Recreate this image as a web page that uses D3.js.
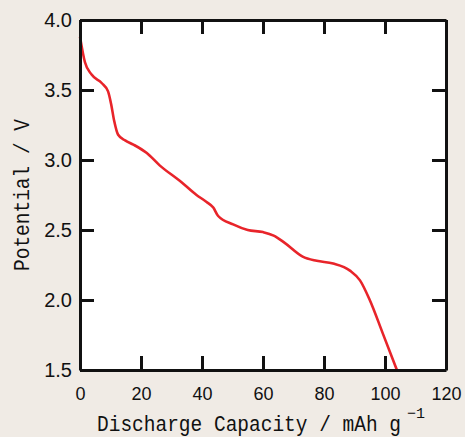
<!DOCTYPE html>
<html>
<head>
<meta charset="utf-8">
<script src="https://cdn.jsdelivr.net/npm/d3@7"></script>
<style>
    body { margin: 0; background: #f0ebe5; }
    #chart { width: 465px; height: 437px; }
</style>
</head>
<body>
<div id="chart"></div>
<script>
// discharge curve
let capacity = [0, 1.6, 3.8, 7.1, 9.2, 10.2, 11.2, 12.5, 14.8, 17.5, 21.9, 26.2, 32.8, 38.2, 41.5, 43.7, 45.3, 50.2, 55, 60, 63.5, 67, 73, 77.6, 83, 88.5, 91.8, 95, 99.3, 103.9];
let potential = [3.88, 3.70, 3.61, 3.55, 3.49, 3.40, 3.28, 3.18, 3.14, 3.11, 3.05, 2.96, 2.85, 2.75, 2.70, 2.66, 2.60, 2.54, 2.50, 2.485, 2.46, 2.41, 2.31, 2.28, 2.26, 2.21, 2.14, 2.0, 1.76, 1.5];
let xTicks = [0, 20, 40, 60, 80, 100, 120];
let yTicks = [1.5, 2.0, 2.5, 3.0, 3.5, 4.0];

let data = capacity.map((c, i) => ({x: c, y: potential[i]}));

let margin = {top: 20, right: 19, bottom: 67, left: 80};
let width = 465 - margin.left - margin.right;
let height = 437 - margin.top - margin.bottom;

let svg = d3.select("#chart").append("svg")
    .attr("width", 465)
    .attr("height", 437)
    .append("g")
    .attr("transform", `translate(${margin.left}, ${margin.top})`);

let x = d3.scaleLinear().domain([0, 120]).range([0, width]);
let y = d3.scaleLinear().domain([1.5, 4.0]).range([height, 0]);

// plot area
svg.append("rect")
    .attr("width", width)
    .attr("height", height)
    .attr("fill", "#ffffff");

// curve
svg.append("path")
    .datum(data)
    .attr("fill", "none")
    .attr("stroke", "#e8242a")
    .attr("stroke-width", 2.6)
    .attr("d", d3.line().x(d => x(d.x)).y(d => y(d.y)).curve(d3.curveMonotoneX));

// axes, ticks pointing inward
let tickLen = 14;
let fmt = d3.format(".1f");

let bottom = svg.append("g")
    .attr("transform", `translate(0, ${height})`)
    .call(d3.axisBottom(x).tickValues(xTicks).tickSizeInner(-tickLen).tickSizeOuter(0).tickPadding(17));
bottom.selectAll("text")
    .attr("font-family", "Liberation Sans, Arial, sans-serif")
    .attr("font-size", "18px");

let left = svg.append("g")
    .call(d3.axisLeft(y).tickValues(yTicks).tickFormat(fmt).tickSizeInner(-tickLen).tickSizeOuter(0).tickPadding(8));
left.selectAll("text")
    .attr("font-family", "Liberation Sans, Arial, sans-serif")
    .attr("font-size", "20px");

svg.append("g")
    .call(d3.axisTop(x).tickValues(xTicks).tickFormat("").tickSizeInner(-tickLen).tickSizeOuter(0));

svg.append("g")
    .attr("transform", `translate(${width}, 0)`)
    .call(d3.axisRight(y).tickValues(yTicks).tickFormat("").tickSizeInner(-tickLen).tickSizeOuter(0));

svg.selectAll(".domain, .tick line")
    .attr("stroke", "#111")
    .attr("stroke-width", 3);
svg.selectAll(".tick text").attr("fill", "#111");

// axis titles (monospace, stretched a little taller like the original)
svg.append("text")
    .attr("transform", `translate(17, ${height + 61}) scale(1, 1.15)`)
    .attr("font-family", "Liberation Mono, DejaVu Sans Mono, monospace")
    .attr("font-size", "19.5px")
    .attr("fill", "#111")
    .text("Discharge Capacity / mAh g");
svg.append("text")
    .attr("x", 327)
    .attr("y", height + 48)
    .attr("font-family", "Liberation Mono, DejaVu Sans Mono, monospace")
    .attr("font-size", "15px")
    .attr("fill", "#111")
    .text("\u22121");

svg.append("text")
    .attr("transform", `translate(-51, ${height / 2}) rotate(-90) scale(1, 1.15)`)
    .attr("text-anchor", "middle")
    .attr("font-family", "Liberation Mono, DejaVu Sans Mono, monospace")
    .attr("font-size", "19.5px")
    .attr("fill", "#111")
    .text("Potential / V");
</script>
</body>
</html>
